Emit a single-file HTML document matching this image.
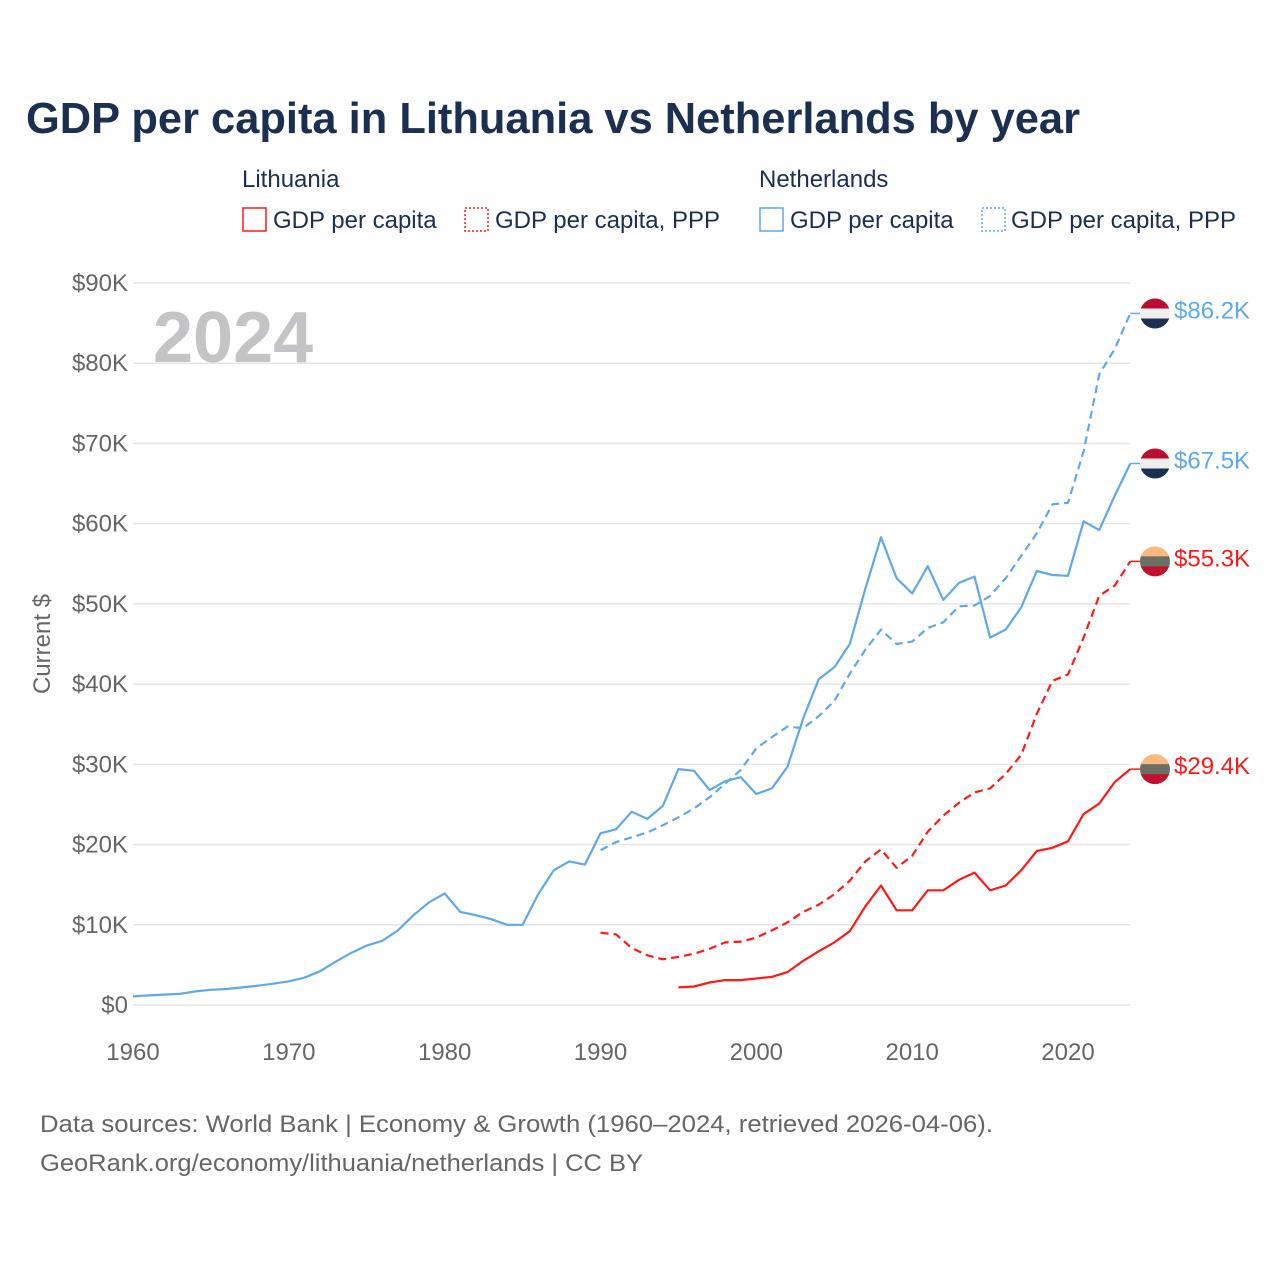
<!DOCTYPE html>
<html><head><meta charset="utf-8">
<style>
html,body{margin:0;padding:0;background:#fff;}
body{width:1280px;height:1280px;position:relative;overflow:hidden;font-family:"Liberation Sans",sans-serif;}
svg text{font-family:"Liberation Sans",sans-serif;}
</style></head>
<body>
<svg id="chart" width="1280" height="1280" viewBox="0 0 1280 1280">
<text x="26" y="133" font-size="44" font-weight="bold" fill="#1b3050" textLength="1054" lengthAdjust="spacingAndGlyphs">GDP per capita in Lithuania vs Netherlands by year</text>
<g font-size="24" fill="#1b3050">
  <text x="242" y="187">Lithuania</text>
  <text x="759" y="187">Netherlands</text>
  <g><rect x="243" y="208" width="23" height="23" fill="none" stroke="#ff1a1a" stroke-width="1.5"/><text x="273" y="228">GDP per capita</text></g>
  <g><rect x="465" y="208" width="23" height="23" fill="none" stroke="#ff1a1a" stroke-width="1.5" stroke-dasharray="2,2"/><text x="495" y="228">GDP per capita, PPP</text></g>
  <g><rect x="760" y="208" width="23" height="23" fill="none" stroke="#5fa8ea" stroke-width="1.5"/><text x="790" y="228">GDP per capita</text></g>
  <g><rect x="982" y="208" width="23" height="23" fill="none" stroke="#5fa8ea" stroke-width="1.5" stroke-dasharray="2,2"/><text x="1011" y="228">GDP per capita, PPP</text></g>
</g>
<text x="153" y="362" font-size="72" font-weight="bold" fill="#c4c4c6">2024</text>
<text transform="translate(50,644) rotate(-90)" text-anchor="middle" font-size="24" fill="#666">Current $</text>
<g id="grid"></g>
<g id="xaxis"></g>
<g id="series"></g>
<g id="ends"></g>
<g font-size="24" fill="#666">
  <text x="40" y="1132" textLength="953" lengthAdjust="spacingAndGlyphs">Data sources: World Bank | Economy &amp; Growth (1960–2024, retrieved 2026-04-06).</text>
  <text x="40" y="1171" textLength="603" lengthAdjust="spacingAndGlyphs">GeoRank.org/economy/lithuania/netherlands | CC BY</text>
</g>
</svg>
<script>
const yTicks=[0,10,20,30,40,50,60,70,80,90];
const xTicks=[1960,1970,1980,1990,2000,2010,2020];
const nlGdpStart=1960;
const nlGdp=[1.07,1.2,1.3,1.4,1.7,1.9,2.0,2.2,2.4,2.65,2.95,3.4,4.2,5.4,6.5,7.4,8.0,9.3,11.2,12.8,13.9,11.6,11.2,10.7,10.0,10.0,13.8,16.8,17.9,17.5,21.4,21.9,24.1,23.2,24.8,29.4,29.2,26.8,27.9,28.4,26.3,27.0,29.7,35.7,40.6,42.1,45.0,51.9,58.3,53.2,51.3,54.7,50.5,52.6,53.4,45.8,46.8,49.6,54.1,53.6,53.5,60.3,59.2,63.5,67.5];
const nlPppStart=1990;
const nlPpp=[19.3,20.3,20.9,21.5,22.4,23.4,24.5,25.9,27.6,29.3,32.0,33.4,34.7,34.5,36.0,37.9,41.3,44.3,46.8,45.0,45.3,47.0,47.7,49.7,49.8,51.0,53.2,56.0,58.8,62.4,62.6,69.0,78.6,81.8,86.2];
const ltPppStart=1990;
const ltPpp=[9.0,8.8,7.1,6.2,5.7,6.0,6.4,7.0,7.8,7.9,8.4,9.3,10.3,11.6,12.5,13.8,15.5,17.9,19.4,17.1,18.6,21.6,23.6,25.2,26.5,27.0,28.8,31.2,36.3,40.4,41.2,45.8,51.0,52.3,55.3];
const ltGdpStart=1995;
const ltGdp=[2.2,2.3,2.8,3.1,3.1,3.3,3.5,4.1,5.5,6.7,7.8,9.2,12.3,14.9,11.8,11.8,14.3,14.3,15.6,16.5,14.3,14.9,16.8,19.2,19.6,20.4,23.8,25.1,27.8,29.4];

const NS='http://www.w3.org/2000/svg';
const X=yr=>133+(yr-1960)*(935/60);
const Y=v=>1005-v*(722/90);
function mk(t,a,p){const e=document.createElementNS(NS,t);for(const k in a)e.setAttribute(k,a[k]);p.appendChild(e);return e;}
const grid=document.getElementById('grid');
yTicks.forEach(v=>{
  const l=mk('line',{x1:133,x2:1130,y1:Y(v),y2:Y(v),stroke:'#e6e6e6','stroke-width':1.5},grid);
  
  
  const t=mk('text',{x:128,y:Y(v)+8,'text-anchor':'end','font-size':24,fill:'#666'},grid);
  t.textContent='$'+(v===0?'0':v+'K');
  
  
});
const xa=document.getElementById('xaxis');
xTicks.forEach(yr=>{
  const t=mk('text',{x:X(yr),y:1060,'text-anchor':'middle','font-size':24,fill:'#666'},xa);
  t.textContent=yr;
  
  
});
const sg=document.getElementById('series');
const eg=document.getElementById('ends');
const series=[
 {name:'nl-gdp-line',start:nlGdpStart,vals:nlGdp,color:'#5fa8ea',dash:null,flag:'nl'},
 {name:'nl-ppp-line',start:nlPppStart,vals:nlPpp,color:'#5fa8ea',dash:'8,5',flag:'nl'},
 {name:'lt-ppp-line',start:ltPppStart,vals:ltPpp,color:'#ff1a1a',dash:'8,5',flag:'lt'},
 {name:'lt-gdp-line',start:ltGdpStart,vals:ltGdp,color:'#ff1a1a',dash:null,flag:'lt'}
];
series.forEach(s=>{
  const pts=s.vals.map((v,i)=>X(s.start+i).toFixed(1)+','+Y(v).toFixed(1)).join(' ');
  const a={points:pts,fill:'none',stroke:s.color,'stroke-width':2.2,'stroke-linejoin':'round'};
  if(s.dash)a['stroke-dasharray']=s.dash;
  const pl=mk('polyline',a,sg);
  
  
  const last=s.vals[s.vals.length-1];
  const cy=Y(last), cx=1155, r=15;
  const g=mk('g',{},eg);
  
  
  const id='c'+s.name;
  const cp=mk('clipPath',{id:id},g); mk('circle',{cx:cx,cy:cy,r:r},cp);
  const cols=s.flag==='nl'?['#ba0c2f','#eef0f0','#1b3050']:['#fdb97f','#6a7064','#c1112e'];
  cols.forEach((c,i)=>mk('rect',{x:cx-r,y:cy-r+i*(2*r/3),width:2*r,height:2*r/3+0.5,fill:c,'clip-path':'url(#'+id+')'},g));
  mk('line',{x1:X(2024),x2:cx-r,y1:cy,y2:cy,stroke:s.color,'stroke-width':1.5},g);
  const t=mk('text',{x:1174,y:cy+5,'font-size':24,fill:s.color},eg);
  t.textContent='$'+last.toFixed(1)+'K';
  
  
});
</script>
</body></html>
